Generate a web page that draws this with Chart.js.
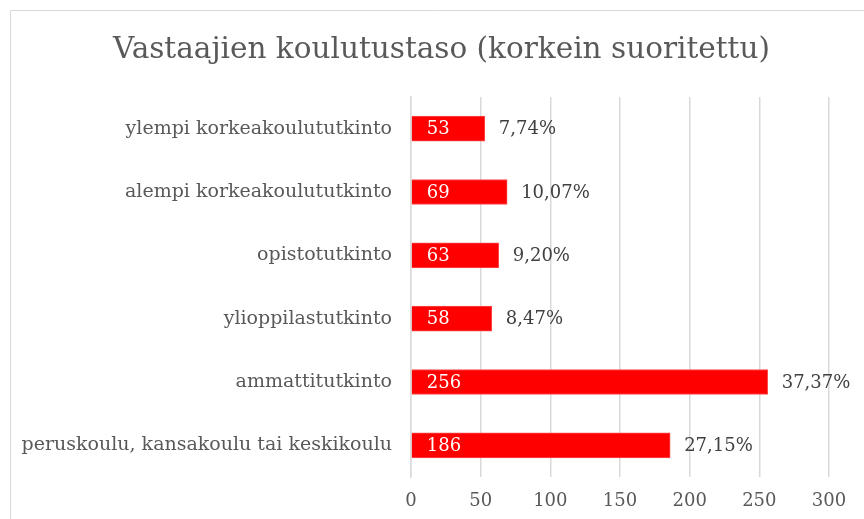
<!DOCTYPE html>
<html><head><meta charset="utf-8">
<script src="https://cdn.jsdelivr.net/npm/chart.js@4"></script>
<style>html,body{margin:0;padding:0;background:#fff;overflow:hidden}canvas{display:block}</style>
</head><body>
<canvas id="c" width="864" height="519"></canvas>
<script>
const categories = ["ylempi korkeakoulututkinto","alempi korkeakoulututkinto","opistotutkinto","ylioppilastutkinto","ammattitutkinto","peruskoulu, kansakoulu tai keskikoulu"];
const counts = [53, 69, 63, 58, 256, 186];
const percents = ["7,74%","10,07%","9,20%","8,47%","37,37%","27,15%"];
const xTicks = [0, 50, 100, 150, 200, 250, 300];
const titleText = "Vastaajien koulutustaso (korkein suoritettu)";
const FONT = "'DejaVu Serif', serif";
const TITLE_SIZE = 29.5;
const TITLE_PAD_TOP = 33;

const frame = {
  id: 'frame',
  beforeDraw(chart) {
    const ctx = chart.ctx;
    ctx.save();
    ctx.fillStyle = '#fff';
    ctx.fillRect(0, 0, chart.width, chart.height);
    ctx.strokeStyle = '#d9d9d9';
    ctx.lineWidth = 1;
    ctx.beginPath();
    ctx.moveTo(10.5, chart.height + 5);
    ctx.lineTo(10.5, 10.5);
    ctx.lineTo(chart.width + 5, 10.5);
    ctx.stroke();
    ctx.restore();
  },
  afterDraw(chart) {
    const ctx = chart.ctx;
    ctx.save();
    ctx.font = TITLE_SIZE + "px " + FONT;
    ctx.fillStyle = '#595959';
    ctx.textAlign = 'center';
    ctx.textBaseline = 'middle';
    ctx.fillText(titleText, 441.5, TITLE_PAD_TOP + TITLE_SIZE * 1.2 / 2);
    ctx.restore();
  }
};

const labelsPlugin = {
  id: 'barLabels',
  afterDatasetsDraw(chart) {
    const ctx = chart.ctx;
    const meta = chart.getDatasetMeta(0);
    ctx.save();
    ctx.font = "18px " + FONT;
    ctx.textBaseline = 'middle';
    ctx.textAlign = 'left';
    meta.data.forEach((bar, i) => {
      ctx.fillStyle = '#ffffff';
      ctx.fillText(String(counts[i]), bar.base + 15, bar.y + 1);
      ctx.fillStyle = '#404040';
      ctx.fillText(percents[i], bar.x + 14, bar.y + 1);
    });
    ctx.restore();
  }
};

new Chart(document.getElementById('c'), {
  type: 'bar',
  data: {
    labels: categories,
    datasets: [{
      data: counts,
      backgroundColor: '#ff0000',
      borderColor: '#ff4d4d',
      borderWidth: 1,
      barThickness: 25
    }]
  },
  options: {
    indexAxis: 'y',
    responsive: false,
    animation: false,
    layout: { padding: { left: 0, right: 35, top: 0, bottom: 0 } },
    plugins: {
      legend: { display: false },
      tooltip: { enabled: false },
      title: {
        display: true,
        text: titleText,
        color: 'rgba(0,0,0,0)',
        font: { family: FONT, size: TITLE_SIZE, weight: 'normal' },
        padding: { top: TITLE_PAD_TOP, bottom: 28.6 }
      }
    },
    scales: {
      x: {
        min: 0, max: 300,
        afterBuildTicks(scale) { scale.ticks = xTicks.map(v => ({ value: v })); },
        afterFit(scale) { scale.height = 42; },
        grid: { color: '#d9d9d9', drawTicks: false, lineWidth: 1.5 },
        border: { display: false },
        ticks: { color: '#595959', padding: 14, font: { family: FONT, size: 18 } }
      },
      y: {
        afterFit(scale) { scale.width = 411; },
        grid: { display: false, drawTicks: false },
        border: { display: true, color: '#d9d9d9', width: 1.5 },
        ticks: { color: '#595959', padding: 19, font: { family: FONT, size: 19 } }
      }
    }
  },
  plugins: [frame, labelsPlugin]
});
</script>
</body></html>
